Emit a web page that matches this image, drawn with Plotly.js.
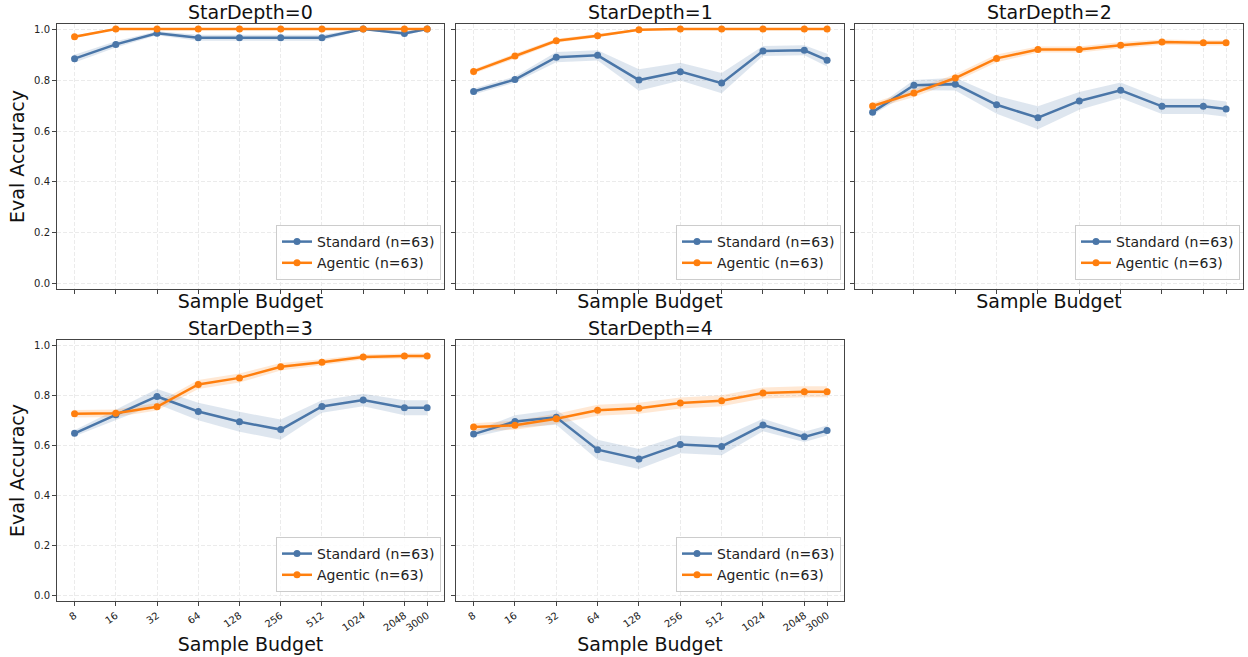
<!DOCTYPE html>
<html>
<head>
<meta charset="utf-8">
<script src="https://cdn.plot.ly/plotly-3.0.1.min.js"></script>
<style>html,body{margin:0;padding:0;background:#fff;}#chart{width:1248px;height:657px;}</style>
</head>
<body>
<div id="chart"></div>
<script>
const budgets = [8, 16, 32, 64, 128, 256, 512, 1024, 2048, 3000];
const tickLabels = ['8', '16', '32', '64', '128', '256', '512', '1024', '2048', '3000'];
const panelTitles = ['StarDepth=0', 'StarDepth=1', 'StarDepth=2', 'StarDepth=3', 'StarDepth=4'];
const seriesNames = ['Standard (n=63)', 'Agentic (n=63)'];

const standard0 = [0.884, 0.940, 0.984, 0.966, 0.966, 0.966, 0.966, 1.000, 0.983, 1.000];
const standardErr0 = [0.015, 0.012, 0.008, 0.012, 0.012, 0.012, 0.012, 0.003, 0.008, 0.003];
const agentic0 = [0.970, 1.000, 1.000, 1.000, 1.000, 1.000, 1.000, 1.000, 1.000, 1.000];
const agenticErr0 = [0.006, 0.002, 0.002, 0.002, 0.002, 0.002, 0.002, 0.002, 0.002, 0.002];

const standard1 = [0.755, 0.802, 0.890, 0.897, 0.800, 0.833, 0.788, 0.914, 0.917, 0.878];
const standardErr1 = [0.012, 0.012, 0.020, 0.020, 0.042, 0.035, 0.040, 0.020, 0.020, 0.025];
const agentic1 = [0.834, 0.894, 0.954, 0.974, 0.997, 1.000, 1.000, 1.000, 1.000, 1.000];
const agenticErr1 = [0.008, 0.010, 0.008, 0.006, 0.003, 0.002, 0.002, 0.002, 0.002, 0.002];

const standard2 = [0.674, 0.780, 0.784, 0.703, 0.652, 0.718, 0.760, 0.697, 0.697, 0.686];
const standardErr2 = [0.010, 0.020, 0.025, 0.035, 0.045, 0.035, 0.030, 0.030, 0.030, 0.030];
const agentic2 = [0.698, 0.749, 0.808, 0.885, 0.920, 0.920, 0.937, 0.949, 0.946, 0.946];
const agenticErr2 = [0.012, 0.015, 0.015, 0.015, 0.012, 0.012, 0.012, 0.010, 0.010, 0.010];

const standard3 = [0.648, 0.722, 0.795, 0.735, 0.694, 0.663, 0.755, 0.781, 0.750, 0.750];
const standardErr3 = [0.012, 0.020, 0.030, 0.035, 0.040, 0.040, 0.025, 0.025, 0.030, 0.030];
const agentic3 = [0.726, 0.728, 0.754, 0.843, 0.869, 0.913, 0.931, 0.952, 0.956, 0.956];
const agenticErr3 = [0.015, 0.015, 0.015, 0.018, 0.018, 0.015, 0.012, 0.010, 0.010, 0.010];

const standard4 = [0.645, 0.695, 0.712, 0.583, 0.546, 0.604, 0.596, 0.681, 0.634, 0.659];
const standardErr4 = [0.012, 0.025, 0.030, 0.040, 0.040, 0.035, 0.035, 0.025, 0.020, 0.020];
const agentic4 = [0.673, 0.680, 0.706, 0.740, 0.748, 0.769, 0.778, 0.809, 0.814, 0.814];
const agenticErr4 = [0.015, 0.018, 0.020, 0.022, 0.022, 0.022, 0.022, 0.022, 0.022, 0.022];

const standardSeries = [standard0, standard1, standard2, standard3, standard4];
const standardErrs = [standardErr0, standardErr1, standardErr2, standardErr3, standardErr4];
const agenticSeries = [agentic0, agentic1, agentic2, agentic3, agentic4];
const agenticErrs = [agenticErr0, agenticErr1, agenticErr2, agenticErr3, agenticErr4];

const BLUE = '#4a76a8';
const ORANGE = '#ff7f0e';
const BLUE_FILL = 'rgba(74,118,168,0.18)';
const ORANGE_FILL = 'rgba(255,127,14,0.18)';
const FONT = 'DejaVu Sans, sans-serif';

const W = 1248, H = 657;
// panel boxes in pixels [left, right, top, bottom]
const boxes = [
  [57, 444, 24, 289],
  [456, 844, 24, 289],
  [855, 1243, 24, 289],
  [57, 444, 340, 601],
  [456, 844, 340, 601]
];

const traces = [];
const layout = {
  width: W, height: H,
  margin: {l: 0, r: 0, t: 0, b: 0},
  paper_bgcolor: '#fff',
  plot_bgcolor: '#fff',
  font: {family: FONT, color: '#222'},
  showlegend: true,
  annotations: []
};

function band(x, y, e, xa, ya, fill) {
  const lo = y.map((v, i) => v - e[i]);
  const hi = y.map((v, i) => v + e[i]);
  traces.push({x: x, y: lo, xaxis: xa, yaxis: ya, type: 'scatter', mode: 'lines',
    line: {width: 0, color: fill}, showlegend: false, hoverinfo: 'skip'});
  traces.push({x: x, y: hi, xaxis: xa, yaxis: ya, type: 'scatter', mode: 'lines',
    line: {width: 0, color: fill}, fill: 'tonexty', fillcolor: fill, showlegend: false, hoverinfo: 'skip'});
}

const xr = [Math.log10(Math.pow(2, 2.574)), Math.log10(Math.pow(2, 11.96))];
const GRID = '#ebebeb';
const SPINE = '#444';

for (let p = 0; p < 5; p++) {
  const b = boxes[p];
  const suffix = p === 0 ? '' : String(p + 1);
  const xa = 'x' + suffix, ya = 'y' + suffix;
  const leg = 'legend' + suffix;
  band(budgets, standardSeries[p], standardErrs[p], xa, ya, BLUE_FILL);
  band(budgets, agenticSeries[p], agenticErrs[p], xa, ya, ORANGE_FILL);
  traces.push({x: budgets, y: standardSeries[p], xaxis: xa, yaxis: ya, type: 'scatter',
    mode: 'lines+markers', name: seriesNames[0], legend: leg,
    line: {color: BLUE, width: 2.5}, marker: {color: BLUE, size: 7}});
  traces.push({x: budgets, y: agenticSeries[p], xaxis: xa, yaxis: ya, type: 'scatter',
    mode: 'lines+markers', name: seriesNames[1], legend: leg,
    line: {color: ORANGE, width: 2.5}, marker: {color: ORANGE, size: 7}});

  const xd = [b[0] / W, b[1] / W];
  const yd = [1 - b[3] / H, 1 - b[2] / H];
  const bottomRow = p >= 3;
  const firstCol = (p === 0 || p === 3);

  layout['xaxis' + suffix] = {
    domain: xd, anchor: ya, type: 'log', range: xr,
    tickmode: 'array', tickvals: budgets, ticktext: tickLabels,
    showticklabels: bottomRow, tickangle: -35,
    tickfont: {size: 10, color: '#222', family: FONT},
    ticks: 'outside', ticklen: 4, tickcolor: SPINE,
    showline: true, mirror: true, linecolor: SPINE, linewidth: 1,
    showgrid: true, gridcolor: GRID, griddash: '4px,2px', gridwidth: 1,
    zeroline: false,
    title: {text: 'Sample Budget', font: {size: 19, family: FONT, color: '#111'}, standoff: bottomRow ? 5 : 1}
  };
  layout['yaxis' + suffix] = {
    domain: yd, anchor: xa, range: [-0.02, 1.02],
    tickmode: 'array', tickvals: [0, 0.2, 0.4, 0.6, 0.8, 1.0],
    ticktext: ['0.0', '0.2', '0.4', '0.6', '0.8', '1.0'],
    showticklabels: firstCol,
    tickfont: {size: 10, color: '#222', family: FONT},
    ticks: 'outside', ticklen: 4, tickcolor: SPINE,
    showline: true, mirror: true, linecolor: SPINE, linewidth: 1,
    showgrid: true, gridcolor: GRID, griddash: '4px,2px', gridwidth: 1,
    zeroline: false,
    title: firstCol ? {text: 'Eval Accuracy', font: {size: 19, family: FONT, color: '#111'}, standoff: 4} : {text: ''}
  };
  layout[leg] = {
    x: (b[1] - 3) / W, y: 1 - (b[3] - 9) / H, xanchor: 'right', yanchor: 'bottom',
    xref: 'paper', yref: 'paper', traceorder: 'normal',
    bgcolor: 'rgba(255,255,255,0.85)', bordercolor: '#cccccc', borderwidth: 1,
    font: {size: 14, family: FONT, color: '#222'},
    tracegroupgap: 0, itemwidth: 30
  };
  layout.annotations.push({
    text: panelTitles[p], xref: 'paper', yref: 'paper',
    x: (xd[0] + xd[1]) / 2, y: 1 - (b[2] - 12) / H, xanchor: 'center', yanchor: 'middle',
    showarrow: false, font: {size: 19, family: FONT, color: '#111'}, borderpad: 0
  });
}

Plotly.newPlot('chart', traces, layout, {displayModeBar: false, staticPlot: true});
</script>
</body>
</html>
